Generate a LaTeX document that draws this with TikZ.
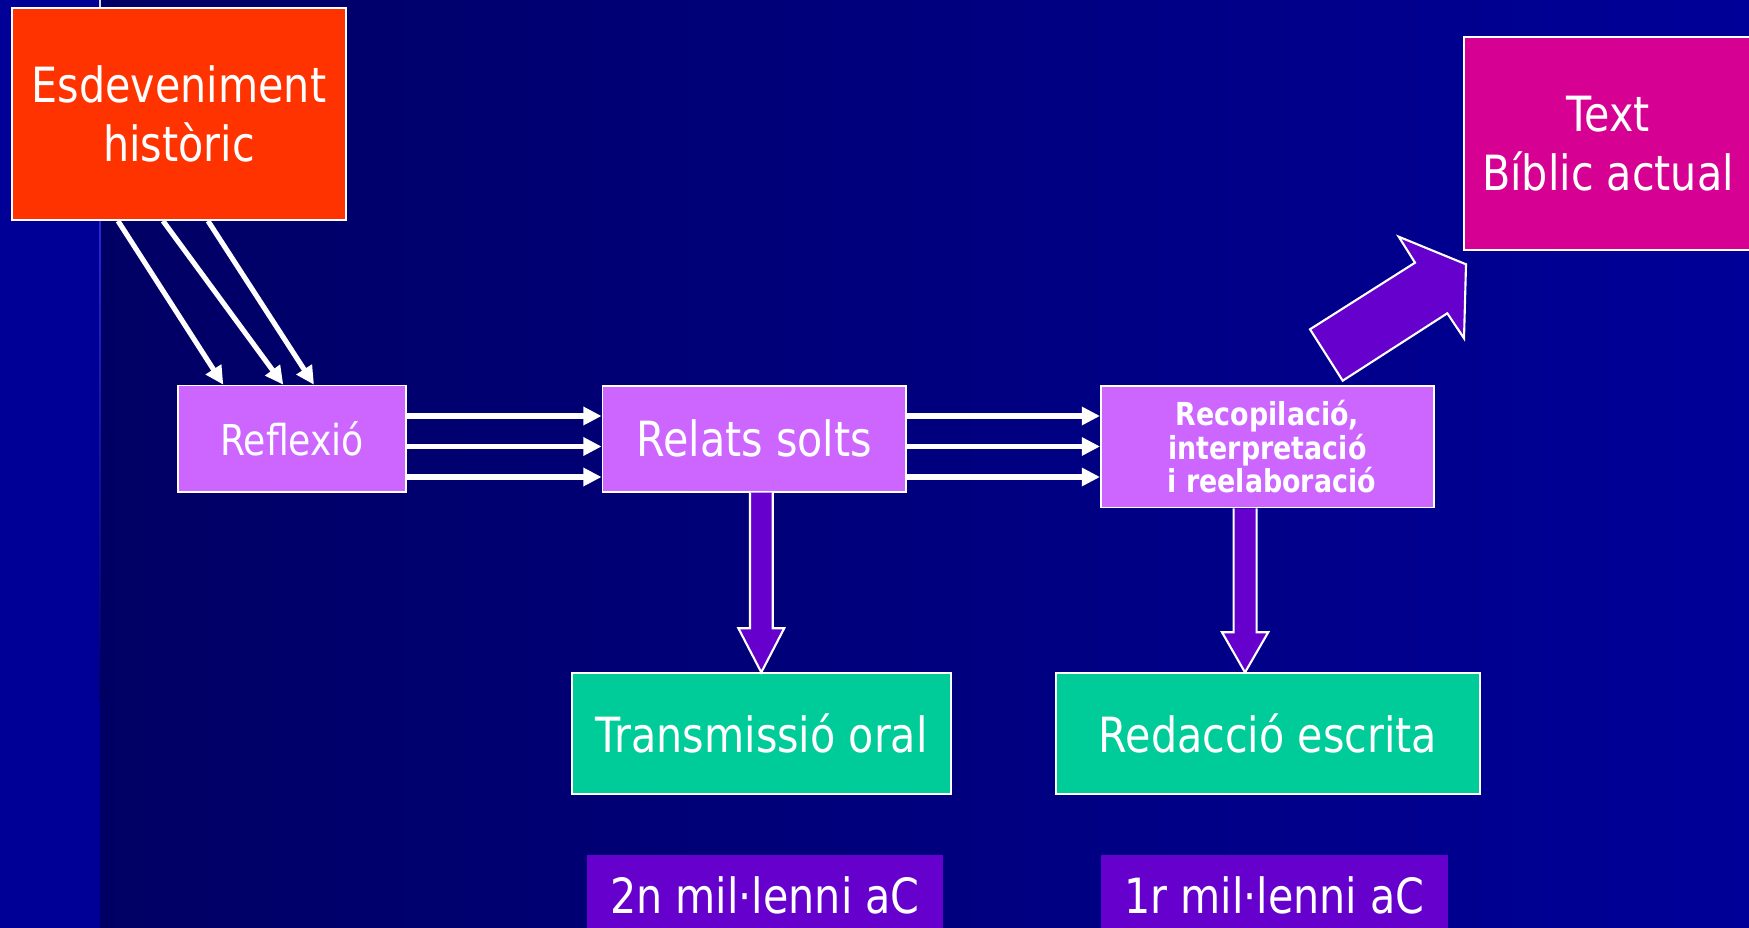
\documentclass[tikz,border=0pt]{standalone}
\usepackage{fontspec}
\setmainfont{DejaVu Sans}[FakeStretch=0.85]
\usetikzlibrary{arrows.meta}
\definecolor{leftband}{RGB}{0,0,150}
\definecolor{bgleft}{RGB}{0,0,100}
\definecolor{bgright}{RGB}{0,0,152}
\definecolor{linia}{RGB}{40,40,215}
\definecolor{fet}{RGB}{255,51,0}
\definecolor{lila}{RGB}{204,102,255}
\definecolor{biblia}{RGB}{214,0,147}
\definecolor{verd}{RGB}{0,204,153}
\definecolor{morat}{RGB}{102,0,204}
\begin{document}
\begin{tikzpicture}[x=0.01cm, y=-0.01cm,
  box/.style={draw=white, line width=0.5pt, text=white, align=center, inner sep=0pt},
  big/.style={font=\fontsize{13.8}{17}\selectfont},
  warrow/.style={white, line width=1.45pt, -{Triangle[length=5.2pt,width=5pt]}},
  blockarrow/.style={draw=white, line width=0.6pt, fill=morat}]

\useasboundingbox (0,0) rectangle (1749,928);
\clip (0,0) rectangle (1749,928);
\fill[leftband] (0,0) rectangle (100,928);
\shade[left color=bgleft, right color=bgright] (100,0) rectangle (1749,928);
\fill[white!85!bgleft] (99.3,0) rectangle (100.7,10);
\shade[top color=linia, bottom color=bgleft] (99.3,220) rectangle (100.7,700);

\node[box, fill=fet, big, minimum width=3.334cm, minimum height=2.12cm] (fet) at (179,114) {Esdeveniment\\històric};
\node[box, fill=biblia, big, minimum width=2.88cm, minimum height=2.127cm] (biblic) at (1608,143.7) {Text\\Bíblic actual};
\node[box, fill=lila, font=\fontsize{12.1}{14}\selectfont, minimum width=2.277cm, minimum height=1.063cm] (reflexio) at (292.2,438.8) {Reflexió};
\node[box, fill=lila, big, minimum width=3.031cm, minimum height=1.06cm] (relats) at (754.1,438.7) {Relats solts};
\node[box, fill=lila, font=\bfseries\fontsize{9}{9.6}\selectfont, minimum width=3.33cm, minimum height=1.218cm] (recop) at (1267.5,446.6) {Recopilació,\\interpretació\\\hspace*{0.27em}i reelaboració};
\node[box, fill=verd, big, minimum width=3.784cm, minimum height=1.21cm] (oral) at (761.5,733.8) {Transmissió oral};
\node[box, fill=verd, big, minimum width=4.24cm, minimum height=1.21cm] (escrita) at (1268,733.8) {Redacció escrita};
\node[box, draw=none, fill=morat, big, minimum width=3.554cm, minimum height=0.8cm] (mil2) at (765,895) {2n mil·lenni aC};
\node[box, draw=none, fill=morat, big, minimum width=3.467cm, minimum height=0.8cm] (mil1) at (1274.4,895) {1r mil·lenni aC};

\foreach \a/\b in {118/223.3, 163/283.3, 208/314}
  \draw[warrow] (\a,0 |- fet.south) -- (\b,0 |- reflexio.north);
\foreach \y in {416, 446.5, 477} {
  \draw[warrow] (reflexio.east |- 0,\y) -- (relats.west |- 0,\y);
  \draw[warrow] (relats.east |- 0,\y) -- (recop.west |- 0,\y);
}

\draw[blockarrow] (750,0 |- relats.south) -- (750,628.3) -- (738.4,628.3) -- (761.3,0 |- oral.north)
  -- (784.2,628.3) -- (772.7,628.3) -- (772.7,0 |- relats.south);
\draw[blockarrow] (1233.6,0 |- recop.south) -- (1233.6,632.3) -- (1222,632.3) -- (1245,0 |- escrita.north)
  -- (1268.2,632.3) -- (1256.6,632.3) -- (1256.6,0 |- recop.south);
\draw[blockarrow] (1310,329.3) -- (1415,262.7) -- (1398.7,236.7) -- (1466,264.3) -- (1464,338.3)
  -- (1447.3,313.3) -- (1342.7,380.7) -- cycle;
\end{tikzpicture}
\end{document}
